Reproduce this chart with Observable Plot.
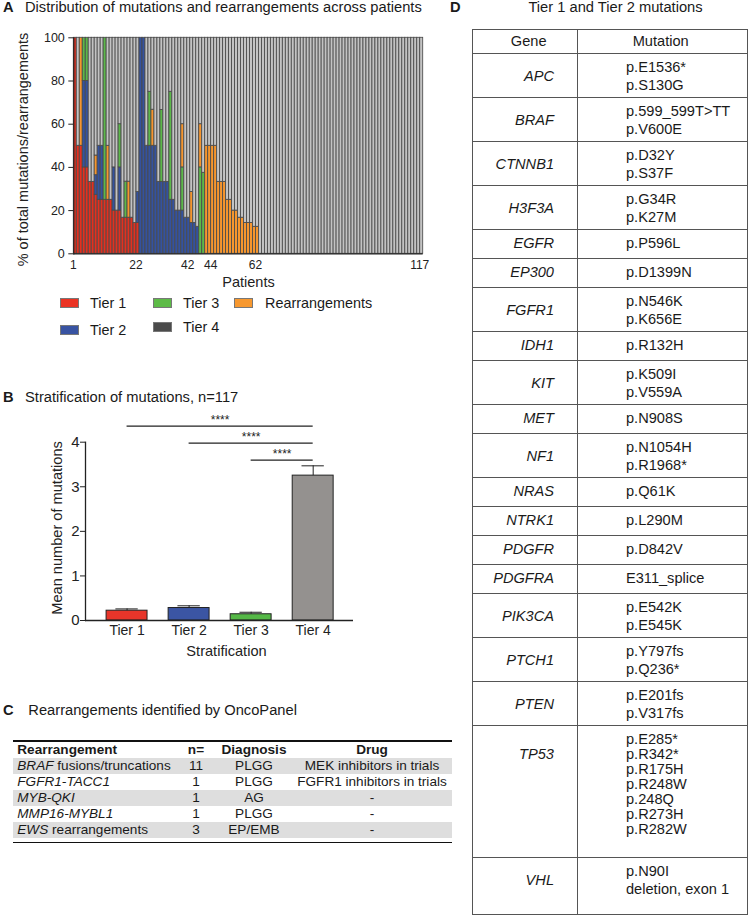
<!DOCTYPE html>
<html>
<head>
<meta charset="utf-8">
<script src="https://cdn.jsdelivr.net/npm/d3@7"></script>
<script src="https://cdn.jsdelivr.net/npm/@observablehq/plot@0.6"></script>
<style>
html, body { margin:0; padding:0; background:#fff; }
#fig { position:relative; width:750px; height:917px; overflow:hidden; font-family:'Liberation Sans', Arial, Helvetica, sans-serif; color:#1a1a1a; }
#fig .t { position:absolute; white-space:nowrap; }
#fig svg { position:absolute; }
</style>
</head>
<body>
<div id="fig"></div>
<script>
// ================= DATA =================
// Panel A: share (%) of each category per patient, patients 1..117
const tierNames = ["Tier 1", "Tier 2", "Tier 3", "Rearrangements", "Tier 4"];
const tier1Pct = [
  100,50,50,40,40,33.3,33.3,27.3,25,25,
  25,25,25,20,20,20,16.7,16.7,16.7,16.7,
  14.3,14.3,0,0,0,0,0,0,0,0,
  0,0,0,0,0,0,0,0,0,0,
  0,0,0,0,0,0,0,0,0,0,
  0,0,0,0,0,0,0,0,0,0,
  0,0,0,0,0,0,0,0,0,0,
  0,0,0,0,0,0,0,0,0,0,
  0,0,0,0,0,0,0,0,0,0,
  0,0,0,0,0,0,0,0,0,0,
  0,0,0,0,0,0,0,0,0,0,
  0,0,0,0,0,0,0];
const tier2Pct = [
  0,0,0,40,40,0,0,9.1,25,25,
  0,0,0,20,0,20,0,0,0,0,
  0,14.3,100,100,50,50,50,50,33.3,33.3,
  33.3,33.3,25,25,20,20,20,16.7,16.7,14.3,
  14.3,12.5,0,0,0,0,0,0,0,0,
  0,0,0,0,0,0,0,0,0,0,
  0,0,0,0,0,0,0,0,0,0,
  0,0,0,0,0,0,0,0,0,0,
  0,0,0,0,0,0,0,0,0,0,
  0,0,0,0,0,0,0,0,0,0,
  0,0,0,0,0,0,0,0,0,0,
  0,0,0,0,0,0,0];
const tier3Pct = [
  0,0,0,20,20,0,0,0,0,0,
  75,0,0,0,0,20,0,16.7,0,0,
  0,0,0,0,0,25,0,0,0,33.3,
  0,0,50,0,0,0,20,0,0,0,
  0,0,40,37.5,0,0,0,0,0,0,
  0,0,0,0,0,0,0,0,0,0,
  0,0,0,0,0,0,0,0,0,0,
  0,0,0,0,0,0,0,0,0,0,
  0,0,0,0,0,0,0,0,0,0,
  0,0,0,0,0,0,0,0,0,0,
  0,0,0,0,0,0,0,0,0,0,
  0,0,0,0,0,0,0];
const rearrPct = [
  0,0,50,0,0,0,0,9.1,0,0,
  0,25,0,0,0,0,0,0,16.7,0,
  0,0,0,0,0,0,16.7,0,0,0,
  0,0,0,0,0,0,20,0,0,14.3,
  0,0,20,0,50,50,50,50,33.3,33.3,
  33.3,25,25,20,20,16.7,16.7,14.3,14.3,14.3,
  12.5,12.5,0,0,0,0,0,0,0,0,
  0,0,0,0,0,0,0,0,0,0,
  0,0,0,0,0,0,0,0,0,0,
  0,0,0,0,0,0,0,0,0,0,
  0,0,0,0,0,0,0,0,0,0,
  0,0,0,0,0,0,0];
const tier4Pct = [
  0,50,0,0,0,66.7,66.7,54.5,50,50,
  0,50,75,60,80,40,83.3,66.6,66.6,83.3,
  85.7,71.4,0,0,50,25,33.3,50,66.7,33.4,
  66.7,66.7,25,75,80,80,40,83.3,83.3,71.4,
  85.7,87.5,40,62.5,50,50,50,50,66.7,66.7,
  66.7,75,75,80,80,83.3,83.3,85.7,85.7,85.7,
  87.5,87.5,100,100,100,100,100,100,100,100,
  100,100,100,100,100,100,100,100,100,100,
  100,100,100,100,100,100,100,100,100,100,
  100,100,100,100,100,100,100,100,100,100,
  100,100,100,100,100,100,100,100,100,100,
  100,100,100,100,100,100,100];
const patientTicks = [1, 22, 42, 44, 62, 117];

// Panel B: mean number of mutations per tier (SEM)
const tiersB = ["Tier 1", "Tier 2", "Tier 3", "Tier 4"];
const meanB = [0.22, 0.28, 0.14, 3.25];
const semB = [0.04, 0.05, 0.045, 0.22];
const sigFrom = ["Tier 3", "Tier 2", "Tier 1"];
const sigTo = ["Tier 4", "Tier 4", "Tier 4"];
const sigLabel = ["****", "****", "****"];

// Panel C: rearrangements
const rearrGene = ["BRAF", "FGFR1-TACC1", "MYB-QKI", "MMP16-MYBL1", "EWS"];
const rearrSuffix = [" fusions/truncations", "", "", "", " rearrangements"];
const rearrN = ["11", "1", "1", "1", "3"];
const rearrDiagnosis = ["PLGG", "PLGG", "AG", "PLGG", "EP/EMB"];
const rearrDrug = ["MEK inhibitors in trials", "FGFR1 inhibitors in trials", "-", "-", "-"];

// Panel D: Tier 1 and Tier 2 mutations
const genesD = ["APC","BRAF","CTNNB1","H3F3A","EGFR","EP300","FGFR1","IDH1","KIT","MET","NF1","NRAS","NTRK1","PDGFR","PDGFRA","PIK3CA","PTCH1","PTEN","TP53","VHL"];
const mutationsD = [
  ["p.E1536*","p.S130G"],
  ["p.599_599T>TT","p.V600E"],
  ["p.D32Y","p.S37F"],
  ["p.G34R","p.K27M"],
  ["p.P596L"],
  ["p.D1399N"],
  ["p.N546K","p.K656E"],
  ["p.R132H"],
  ["p.K509I","p.V559A"],
  ["p.N908S"],
  ["p.N1054H","p.R1968*"],
  ["p.Q61K"],
  ["p.L290M"],
  ["p.D842V"],
  ["E311_splice"],
  ["p.E542K","p.E545K"],
  ["p.Y797fs","p.Q236*"],
  ["p.E201fs","p.V317fs"],
  ["p.E285*","p.R342*","p.R175H","p.R248W","p.248Q","p.R273H","p.R282W"],
  ["p.N90I","deletion, exon 1"]
];

// ================= STYLE =================
const FONT = "'Liberation Sans', Arial, Helvetica, sans-serif";
const barColorsA = ["#e4301f", "#34529f", "#5cb84a", "#f6962e", "#c3c3c3"];
const legendColorsA = ["#ea3323", "#3853a2", "#5dbb47", "#f7982f", "#4b4b4b"];
const barColorsB = ["#e8352a", "#3b55a3", "#55b847", "#94918f"];

const fig = document.getElementById("fig");

function addText(parent, html, x, cy, size, o = {}) {
  const d = document.createElement("div");
  d.className = "t";
  d.innerHTML = html;
  d.style.left = x + "px";
  d.style.top = (cy - size * 0.5) + "px";
  d.style.fontSize = size + "px";
  d.style.lineHeight = size + "px";
  if (o.bold) d.style.fontWeight = "bold";
  if (o.italic) d.style.fontStyle = "italic";
  if (o.align === "center") d.style.transform = "translateX(-50%)";
  if (o.align === "right") d.style.transform = "translateX(-100%)";
  if (o.color) d.style.color = o.color;
  parent.appendChild(d);
  return d;
}
function addBox(parent, css) {
  const d = document.createElement("div");
  d.style.cssText = "position:absolute;" + css;
  parent.appendChild(d);
  return d;
}

// ================= PANEL A =================
const patients = d3.range(1, tier1Pct.length + 1);
const seriesA = [tier1Pct, tier2Pct, tier3Pct, rearrPct, tier4Pct];
const rowsA = patients.flatMap((p, i) =>
  tierNames.map((t, k) => ({patient: p, tier: t, value: seriesA[k][i]}))
).filter(d => d.value > 0);

const plotA = Plot.plot({
  width: 440, height: 290,
  marginLeft: 73.3, marginRight: 17.3, marginTop: 37.3, marginBottom: 36.7,
  style: {fontFamily: FONT, fontSize: "12px", color: "#222", background: "transparent", overflow: "visible"},
  x: {type: "band", domain: patients, padding: 0},
  y: {domain: [0, 100]},
  color: {domain: tierNames, range: barColorsA},
  marks: [
    Plot.barY(rowsA, {x: "patient", y: "value", fill: "tier", stroke: "#4a4a4a", strokeWidth: 0.85, inset: 0}),
    Plot.ruleY([0], {stroke: "#222", strokeWidth: 1.2}),
    Plot.frame({anchor: "left", stroke: "#222", strokeWidth: 1.2}),
    Plot.axisY({ticks: [0, 20, 40, 60, 80, 100], tickSize: 5, tickPadding: 4, fontSize: 12.5, label: null}),
    Plot.axisX({ticks: patientTicks.filter(t => t !== 42 && t !== 44), tickSize: 0, tickPadding: 7, dx: -2, fontSize: 12, label: null}),
    Plot.axisX({ticks: [42], tickSize: 0, tickPadding: 7, dx: -10, fontSize: 12, label: null}),
    Plot.axisX({ticks: [44], tickSize: 0, tickPadding: 7, dx: 7, fontSize: 12, label: null}),
    Plot.text(["% of total mutations/rearrangements"], {text: d => d, frameAnchor: "left", textAnchor: "middle", lineAnchor: "middle", rotate: -90, dx: -50, dy: 3.7, fontSize: 14.5, fill: "#222"}),
    Plot.text(["Patients"], {text: d => d, frameAnchor: "bottom", textAnchor: "middle", lineAnchor: "middle", dy: 29, fontSize: 14.5, fill: "#222"})
  ]
});
plotA.style.left = "0px";
plotA.style.top = "0px";
fig.appendChild(plotA);

addText(fig, "A", 3, 7.2, 14.7, {bold: true});
addText(fig, "Distribution of mutations and rearrangements across patients", 25, 7.2, 14.7);

// legend A (two rows as in the figure)
const legendPos = [
  {sx: 60, sy: 298, tx: 90, ty: 303},   // Tier 1
  {sx: 60, sy: 325, tx: 90, ty: 330},   // Tier 2
  {sx: 153, sy: 298, tx: 183, ty: 303}, // Tier 3
  {sx: 234, sy: 298, tx: 265, ty: 303}, // Rearrangements
  {sx: 153, sy: 322, tx: 183, ty: 327}  // Tier 4
];
tierNames.forEach((t, k) => {
  const p = legendPos[k];
  addBox(fig, `left:${p.sx}px;top:${p.sy}px;width:19px;height:10px;box-sizing:border-box;border:1px solid #777;background:${legendColorsA[k]};`);
  addText(fig, t, p.tx, p.ty, 14.4);
});

// ================= PANEL B =================
const dataB = tiersB.map((t, i) => ({tier: t, i, mean: meanB[i], top: meanB[i] + semB[i]}));
const topMax = d3.max(dataB, d => d.top);
const sigB = sigFrom.map((f, k) => ({
  from: tiersB.indexOf(f), to: tiersB.indexOf(sigTo[k]), label: sigLabel[k],
  level: topMax + 0.13 + 0.38 * k
}));

const plotB = Plot.plot({
  width: 380, height: 262,
  marginLeft: 85, marginRight: 27, marginTop: 41.7, marginBottom: 42,
  style: {fontFamily: FONT, fontSize: "14px", color: "#222", background: "transparent", overflow: "visible"},
  x: {domain: [-0.67, 3.65]},
  y: {domain: [0, 4]},
  color: {domain: tiersB, range: barColorsB},
  marks: [
    Plot.rectY(dataB, {x1: d => d.i - 0.33, x2: d => d.i + 0.33, y1: 0, y2: "mean", fill: "tier", stroke: "#222", strokeWidth: 1}),
    Plot.ruleX(dataB, {x: "i", y1: "mean", y2: "top", stroke: "#222", strokeWidth: 1}),
    Plot.ruleY(dataB, {y: "top", x1: d => d.i - 0.18, x2: d => d.i + 0.18, stroke: "#222", strokeWidth: 1}),
    Plot.ruleY([0], {stroke: "#222", strokeWidth: 1.3}),
    Plot.frame({anchor: "left", stroke: "#222", strokeWidth: 1.3}),
    Plot.axisY({ticks: [0, 1, 2, 3, 4], tickFormat: d => String(d), tickSize: 5, tickPadding: 1, fontSize: 15, label: null}),
    Plot.axisX({ticks: [0, 1, 2, 3], tickFormat: i => tiersB[i], tickSize: 0, tickPadding: 4.4, fontSize: 14, label: null}),
    Plot.ruleY(sigB, {y: "level", x1: "from", x2: "to", stroke: "#222", strokeWidth: 1.3}),
    Plot.text(sigB, {x: d => (d.from + d.to) / 2, y: "level", text: "label", dy: -6, fontSize: 12, fill: "#222"}),
    Plot.text(["Stratification"], {text: d => d, frameAnchor: "bottom", textAnchor: "middle", lineAnchor: "middle", dx: 7, dy: 31, fontSize: 14.6, fill: "#222"}),
    Plot.text(["Mean number of mutations"], {text: d => d, frameAnchor: "left", textAnchor: "middle", lineAnchor: "middle", rotate: -90, dx: -28, dy: -3.4, fontSize: 14.6, fill: "#222"})
  ]
});
plotB.style.left = "0px";
plotB.style.top = "400px";
fig.appendChild(plotB);

addText(fig, "B", 3, 397.2, 14.7, {bold: true});
addText(fig, "Stratification of mutations, n=117", 25, 397.2, 14.7);

// ================= PANEL C =================
addText(fig, "C", 3, 710, 14.7, {bold: true});
addText(fig, "Rearrangements identified by OncoPanel", 28.3, 710, 14.7);

const C = addBox(fig, "left:13.3px;top:740px;width:438.4px;height:104px;border-top:2px solid #111;");
const colC = [{x: 4, align: "left"}, {x: 182.7, align: "center"}, {x: 240.7, align: "center"}, {x: 358.7, align: "center"}];
const rowH = 16;
const fsC = 13.6;
["Rearrangement", "n=", "Diagnosis", "Drug"].forEach((h, j) => {
  addText(C, h, colC[j].x, rowH / 2, fsC, {bold: true, align: colC[j].align});
});
rearrGene.forEach((g, k) => {
  const y0 = rowH * (k + 1);
  if (k % 2 === 0) addBox(C, `left:0;top:${y0}px;width:100%;height:${rowH}px;background:#dedede;`);
  const cy = y0 + rowH / 2;
  addText(C, `<i>${g}</i>${rearrSuffix[k]}`, colC[0].x, cy, fsC);
  addText(C, rearrN[k], colC[1].x, cy, fsC, {align: "center"});
  addText(C, rearrDiagnosis[k], colC[2].x, cy, fsC, {align: "center"});
  addText(C, rearrDrug[k], colC[3].x, cy, fsC, {align: "center"});
});
addBox(C, `left:0;top:${rowH * 6 + 4}px;width:100%;height:1px;background:#111;`);

// ================= PANEL D =================
addText(fig, "D", 450, 7.2, 14.7, {bold: true});
addText(fig, "Tier 1 and Tier 2 mutations", 615.5, 7.5, 14.7, {align: "center"});

const D = addBox(fig, "left:472px;top:29px;width:276px;height:886px;box-sizing:border-box;border:1.3px solid #555;");
const innerH = 886 - 2.6;
const fsD = 14.6;
const headerH = 23.3;
const divX = 103.7;
addBox(D, `left:${divX}px;top:0;width:1px;height:100%;background:#555;`);
addText(D, "Gene", 55.7, 11.3, fsD, {align: "center"});
addText(D, "Mutation", 187.7, 11.3, fsD, {align: "center"});
let yD = headerH;
genesD.forEach((g, r) => {
  const lines = mutationsD[r];
  const n = lines.length;
  const lh = n > 2 ? 15 : 18;
  let h = n === 1 ? 29 : n === 2 ? 44 : 27 + 15 * n;
  if (r === genesD.length - 1) h = innerH - yD;
  addBox(D, `left:0;top:${yD}px;width:100%;height:1px;background:#555;`);
  const geneCy = yD + 14 + (Math.min(n, 3) - 1) * lh / 2;
  addText(D, g, 81, geneCy, fsD, {italic: true, align: "right"});
  lines.forEach((m, k) => addText(D, m, 153, yD + 14 + k * lh, fsD));
  yD += h;
});
</script>
</body>
</html>
